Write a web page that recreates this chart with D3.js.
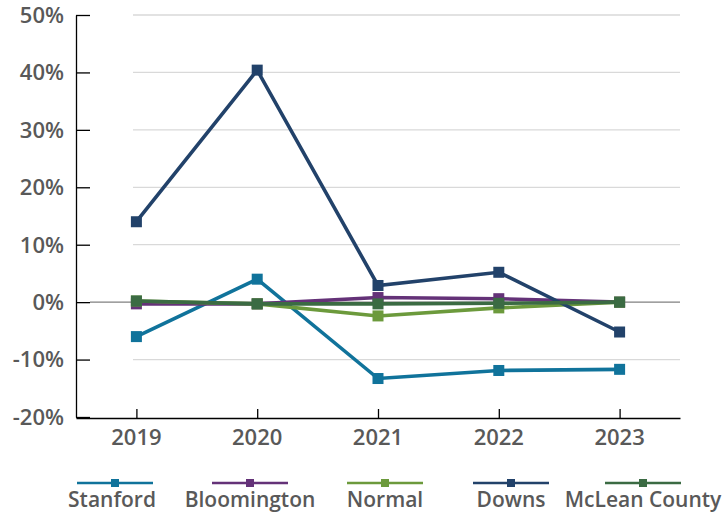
<!DOCTYPE html>
<html>
  <head>
    <meta charset='utf-8'>
    <title></title>
    <script src='https://d3js.org/d3.v7.min.js'></script>
    <style>
      body { margin: 0; background: #fff; }
      svg { display: block; }
      .lbl {
        font-family: 'Open Sans', sans-serif;
        font-weight: 600;
        fill: #595959;
      }
    </style>
  </head>
  <body>
  <script type='text/javascript'>

    // data (% change)
    var years = ['2019', '2020', '2021', '2022', '2023'];
    var seriesNames = ['Stanford', 'Bloomington', 'Normal', 'Downs', 'McLean County'];
    var stanford    = [-6.0, 4.0, -13.3, -11.9, -11.7];
    var bloomington = [-0.3, -0.3, 0.8, 0.6, 0.0];
    var normal      = [0.2, -0.3, -2.4, -1.0, 0.0];
    var downs       = [14.0, 40.4, 2.9, 5.2, -5.2];
    var mclean      = [0.2, -0.3, -0.3, -0.2, 0.0];
    var yTicks = [-20, -10, 0, 10, 20, 30, 40, 50];

    var colors = ['#10739b', '#643278', '#6c9a3c', '#22426a', '#3b6b43'];
    var allSeries = [stanford, bloomington, normal, downs, mclean];

    var width = 724;
    var height = 514;
    var plotLeft = 76, plotRight = 680, plotTop = 15, plotBottom = 417;

    var svg = d3.select('body')
              .append('svg')
              .attr('width', width)
              .attr('height', height)
              .style('background', 'white');

    var x = d3.scalePoint()
              .domain(years)
              .range([plotLeft, plotRight])
              .padding(0.5);

    var y = d3.scaleLinear()
              .domain([-20, 50])
              .range([plotBottom, plotTop]);

    // gridlines
    svg.append('g')
      .selectAll('line')
      .data(yTicks.filter(function(d) { return d !== 0 && d !== -20; }))
      .enter().append('line')
      .attr('x1', 133).attr('x2', plotRight)
      .attr('y1', function(d) { return y(d); })
      .attr('y2', function(d) { return y(d); })
      .attr('stroke', '#d9d9d9')
      .attr('stroke-width', 1.3);

    // zero line
    svg.append('line')
      .attr('x1', plotLeft + 14).attr('x2', plotRight)
      .attr('y1', y(0)).attr('y2', y(0))
      .attr('stroke', '#808080')
      .attr('stroke-width', 1.3);

    // y axis
    var yAxis = svg.append('g')
      .attr('transform', 'translate(' + plotLeft + ',0)')
      .call(d3.axisRight(y).tickValues(yTicks).tickSize(14).tickSizeOuter(0).tickFormat(''));
    yAxis.select('.domain').attr('stroke', '#000').attr('stroke-width', 1.3);
    yAxis.selectAll('.tick line').attr('stroke', '#000').attr('stroke-width', 1.3);

    svg.append('g')
      .selectAll('text')
      .data(yTicks)
      .enter().append('text')
      .attr('class', 'lbl')
      .attr('x', plotLeft - 12)
      .attr('y', function(d) { return y(d); })
      .attr('dy', '0.36em')
      .attr('text-anchor', 'end')
      .style('font-size', '22px')
      .text(function(d) { return d + '%'; });

    // x axis
    var xAxis = svg.append('g')
      .attr('transform', 'translate(0,' + (plotBottom + 1) + ')')
      .call(d3.axisTop(x).tickSize(9).tickSizeOuter(0).tickFormat(''));
    xAxis.select('.domain').attr('stroke', '#000').attr('stroke-width', 1.3);
    xAxis.selectAll('.tick line').attr('stroke', '#000').attr('stroke-width', 1.3);

    svg.append('g')
      .selectAll('text')
      .data(years)
      .enter().append('text')
      .attr('class', 'lbl')
      .attr('x', function(d) { return x(d); })
      .attr('y', plotBottom + 28)
      .attr('text-anchor', 'middle')
      .style('font-size', '22px')
      .text(function(d) { return d; });

    // lines + markers
    var line = d3.line()
              .x(function(d, i) { return x(years[i]); })
              .y(function(d) { return y(d); });

    allSeries.forEach(function(vals, s) {
      var g = svg.append('g');
      g.append('path')
        .datum(vals)
        .attr('d', line)
        .attr('fill', 'none')
        .attr('stroke', colors[s])
        .attr('stroke-width', 3.6)
        .attr('stroke-linejoin', 'miter');
      g.selectAll('rect')
        .data(vals)
        .enter().append('rect')
        .attr('x', function(d, i) { return x(years[i]) - 5.5; })
        .attr('y', function(d) { return y(d) - 5.5; })
        .attr('width', 11)
        .attr('height', 11)
        .attr('fill', colors[s]);
    });

    // legend
    var legendCenters = [112, 250, 385, 511, 643];
    var lg = svg.append('g')
      .selectAll('g')
      .data(seriesNames)
      .enter().append('g')
      .attr('transform', function(d, i) { return 'translate(' + legendCenters[i] + ',483)'; });

    lg.append('line')
      .attr('x1', -38).attr('x2', 38)
      .attr('transform', function(d, i) { return i === 0 ? 'translate(3,0)' : null; })
      .attr('stroke', function(d, i) { return colors[i]; })
      .attr('stroke-width', 2.6);
    lg.append('rect')
      .attr('x', function(d, i) { return i === 0 ? -1 : -4; }).attr('y', -4)
      .attr('width', 8).attr('height', 8)
      .attr('fill', function(d, i) { return colors[i]; });
    lg.append('text')
      .attr('class', 'lbl')
      .attr('y', 24)
      .attr('text-anchor', 'middle')
      .style('font-size', '21px')
      .text(function(d) { return d; });

  </script>
  </body>
</html>
